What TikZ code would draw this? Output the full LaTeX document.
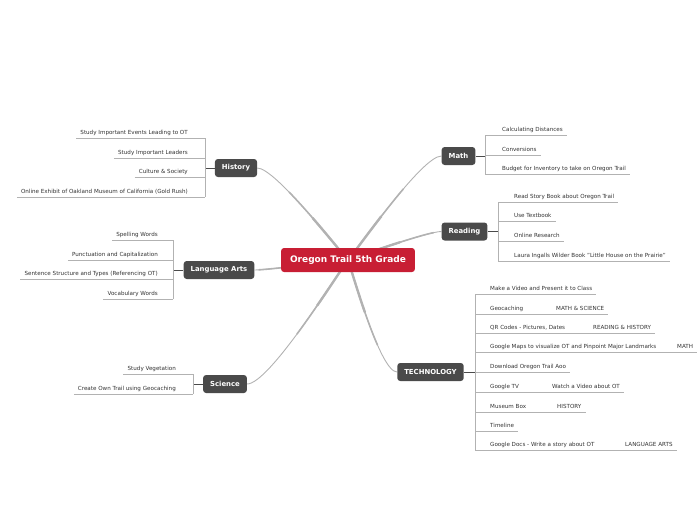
\documentclass[tikz,border=0pt]{standalone}
\usepackage{fontspec}
\setmainfont{DejaVu Sans}
\usetikzlibrary{positioning,backgrounds}
\definecolor{otred}{RGB}{200,30,52}
\definecolor{topicgray}{RGB}{74,74,74}
\definecolor{linegray}{RGB}{178,178,178}
\definecolor{leaftext}{RGB}{50,50,50}

\tikzset{
  central/.style={fill=otred, rounded corners=3pt, text=white,
    font=\fontsize{9}{10}\selectfont\bfseries, minimum height=24pt, inner xsep=9pt},
  topic/.style={fill=topicgray, rounded corners=3pt, text=white,
    font=\fontsize{6.9}{8}\selectfont\bfseries, minimum height=18pt, inner xsep=7pt},
  leaf/.style={text=leaftext, font=\fontsize{5.6}{6.5}\selectfont, inner xsep=4pt,
    inner ysep=2pt, text height=4.2pt, text depth=1.1pt},
  % thick near the centre, thinner towards the topic
  branch/.style={linegray, line width=0.9pt, looseness=0.35,
    preaction={draw, linegray, line width=2.4pt, dash pattern=on 55pt off 1000pt},
    preaction={draw, linegray, line width=1.6pt, dash pattern=on 90pt off 1000pt}},
  uline/.style={linegray, line width=0.8pt},
  stem/.style={topicgray, line width=1pt},
}

\begin{document}
\begin{tikzpicture}[x=1pt,y=-1pt]
  \useasboundingbox (0,0) rectangle (697,520);
  \clip (0,0) rectangle (697,520);

  % Centre
  \node[central] (ot) at (348,260) {Oregon Trail 5th Grade};

  % Main topics
  \node[topic] (history) at (236,168) {History};
  \node[topic] (langarts) at (219,270) {Language Arts};
  \node[topic] (science) at (225,384) {Science};
  \node[topic] (math) at (458.5,156) {Math};
  \node[topic] (reading) at (464.5,231.5) {Reading};
  \node[topic] (tech) at (430.5,372) {TECHNOLOGY};

  % Branches from the centre
  \begin{scope}[on background layer]
    \draw[branch] (ot.center) to[out=132,in=0] (history.east);
    \draw[branch] (ot.center) to[out=186,in=0] (langarts.east);
    \draw[branch] (ot.center) to[out=234,in=0] (science.east);
    \draw[branch] (ot.center) to[out=50,in=180] (math.west);
    \draw[branch] (ot.center) to[out=20,in=180] (reading.west);
    \draw[branch] (ot.center) to[out=-71,in=180] (tech.west);
  \end{scope}

  % History
  \coordinate (hbr) at (205,168);
  \draw[stem] (history.west) -- (hbr);
  \node[leaf, anchor=south east] (h1) at (192,138) {Study Important Events Leading to OT};
  \node[leaf, anchor=south east] (h2) at (192,158) {Study Important Leaders};
  \node[leaf, anchor=south east] (h3) at (192,177) {Culture \& Society};
  \node[leaf, anchor=south east] (h4) at (192,197) {Online Exhibit of Oakland Museum of California (Gold Rush)};
  \foreach \i in {1,...,4}
    \draw[uline] (h\i.south west) -- (h\i.south west -| hbr);
  \draw[uline] (hbr |- h1.south) -- (hbr |- h4.south);

  % Language Arts
  \coordinate (lbr) at (173,270);
  \draw[stem] (langarts.west) -- (lbr);
  \node[leaf, anchor=south east] (l1) at (162,240) {Spelling Words};
  \node[leaf, anchor=south east] (l2) at (162,260) {Punctuation and Capitalization};
  \node[leaf, anchor=south east] (l3) at (162,279) {Sentence Structure and Types (Referencing OT)};
  \node[leaf, anchor=south east] (l4) at (162,299) {Vocabulary Words};
  \foreach \i in {1,...,4}
    \draw[uline] (l\i.south west) -- (l\i.south west -| lbr);
  \draw[uline] (lbr |- l1.south) -- (lbr |- l4.south);

  % Science
  \coordinate (sbr) at (193,384);
  \draw[stem] (science.west) -- (sbr);
  \node[leaf, anchor=south east] (s1) at (180,374) {Study Vegetation};
  \node[leaf, anchor=south east] (s2) at (180,394) {Create Own Trail using Geocaching};
  \foreach \i in {1,2}
    \draw[uline] (s\i.south west) -- (s\i.south west -| sbr);
  \draw[uline] (sbr |- s1.south) -- (sbr |- s2.south);

  % Math
  \coordinate (mbr) at (485,156);
  \draw[stem] (math.east) -- (mbr);
  \node[leaf, anchor=south west] (m1) at (498,135) {Calculating Distances};
  \node[leaf, anchor=south west] (m2) at (498,155) {Conversions};
  \node[leaf, anchor=south west] (m3) at (498,174) {Budget for Inventory to take on Oregon Trail};
  \foreach \i in {1,...,3}
    \draw[uline] (m\i.south west -| mbr) -- (m\i.south east);
  \draw[uline] (mbr |- m1.south) -- (mbr |- m3.south);

  % Reading
  \coordinate (rbr) at (498,231.5);
  \draw[stem] (reading.east) -- (rbr);
  \node[leaf, anchor=south west] (r1) at (510,202) {Read Story Book about Oregon Trail};
  \node[leaf, anchor=south west] (r2) at (510,221) {Use Textbook};
  \node[leaf, anchor=south west] (r3) at (510,241) {Online Research};
  \node[leaf, anchor=south west] (r4) at (510,261) {Laura Ingalls Wilder Book "Little House on the Prairie"};
  \foreach \i in {1,...,4}
    \draw[uline] (r\i.south west -| rbr) -- (r\i.south east);
  \draw[uline] (rbr |- r1.south) -- (rbr |- r4.south);

  % Technology
  \coordinate (tbr) at (475,372);
  \draw[stem] (tech.east) -- (tbr);
  \node[leaf, anchor=south west] (t1) at (486,294) {Make a Video and Present it to Class};
  \node[leaf, anchor=south west] (t2) at (486,314) {Geocaching};
  \node[leaf, anchor=south west] (t2b) at (552,314) {MATH \& SCIENCE};
  \node[leaf, anchor=south west] (t3) at (486,333) {QR Codes - Pictures, Dates};
  \node[leaf, anchor=south west] (t3b) at (589,333) {READING \& HISTORY};
  \node[leaf, anchor=south west] (t4) at (486,352) {Google Maps to visualize OT and Pinpoint Major Landmarks};
  \node[leaf, anchor=south west] (t4b) at (673,352) {MATH};
  \node[leaf, anchor=south west] (t5) at (486,372) {Download Oregon Trail Aoo};
  \node[leaf, anchor=south west] (t6) at (486,392) {Google TV};
  \node[leaf, anchor=south west] (t6b) at (548,392) {Watch a Video about OT};
  \node[leaf, anchor=south west] (t7) at (486,412) {Museum Box};
  \node[leaf, anchor=south west] (t7b) at (553,412) {HISTORY};
  \node[leaf, anchor=south west] (t8) at (486,431) {Timeline};
  \node[leaf, anchor=south west] (t9) at (486,450) {Google Docs - Write a story about OT};
  \node[leaf, anchor=south west] (t9b) at (621,450) {LANGUAGE ARTS};
  \foreach \a/\b in {t1/t1,t2/t2b,t3/t3b,t4/t4b,t5/t5,t6/t6b,t7/t7b,t8/t8,t9/t9b}
    \draw[uline] (\a.south west -| tbr) -- (\b.south east);
  \draw[uline] (tbr |- t1.south) -- (tbr |- t9.south);
\end{tikzpicture}
\end{document}
